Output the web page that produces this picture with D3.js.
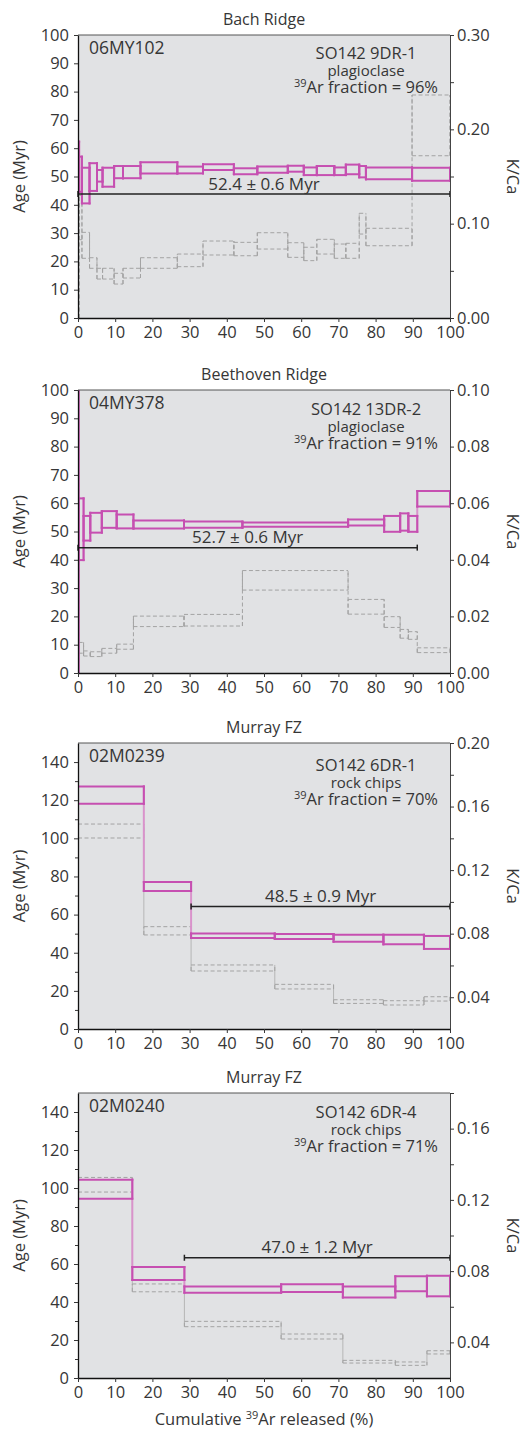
<!DOCTYPE html>
<html>
<head>
<meta charset="utf-8">
<script src="https://cdn.jsdelivr.net/npm/d3@7"></script>
<style>
body{margin:0;background:#fff;}
svg{display:block;font-family:"Open Sans",sans-serif;}
</style>
</head>
<body>
<svg id="chart" width="528" height="1432"></svg>
<script>
// step boundaries (cumulative 39Ar released, %), ages [lo, hi] (Myr), K/Ca [lo, hi]
var bachCum = [0, 0.3, 1.06, 3.1, 5.1, 6.6, 9.7, 12.1, 16.8, 26.7, 33.6, 41.9, 48.2, 56.4, 60.7, 64.2, 68.9, 72.0, 75.6, 77.4, 89.8, 100];
var bachAge = [[44.5,62.3],[44.6,57.0],[40.5,53.1],[44.9,54.7],[48.2,52.3],[46.4,53.1],[49.4,53.7],[49.4,53.7],[51.1,55.0],[51.1,53.5],
  [52.3,54.3],[50.8,52.9],[51.3,53.5],[51.7,53.8],[50.5,53.2],[50.5,53.7],[50.5,53.2],[50.8,54.2],[49.7,53.7],[49.0,53.2],[48.5,53.1]];
var bachKCa = [[0.0,0.14],[0.083,0.13],[0.0633,0.0908],[0.0527,0.0639],[0.0413,0.0527],[0.0413,0.0527],[0.036,0.0474],[0.0424,0.0527],
  [0.0527,0.0639],[0.0544,0.0678],[0.0668,0.0816],[0.066,0.0802],[0.0731,0.0904],[0.0643,0.0798],[0.0608,0.075],[0.0678,0.0834],
  [0.0633,0.0784],[0.0633,0.0792],[0.089,0.111],[0.0766,0.0951],[0.172,0.2364]];

var beetCum = [0, 0.18, 1.5, 3.3, 6.4, 10.4, 14.9, 28.5, 44.2, 72.6, 82.3, 86.6, 88.8, 91.2, 100];
var beetAge = [[-20,130],[39.9,61.7],[46.8,55.5],[49.6,56.6],[51.3,57.2],[51.1,56.0],[51.1,53.9],[51.3,53.5],[51.7,53.2],[52.1,54.2],
  [49.9,55.5],[50.3,56.4],[49.9,55.5],[58.8,64.3]];
var beetKCa = [[-0.01,0.071],[0.0070,0.0108],[0.0060,0.0078],[0.0058,0.0075],[0.0070,0.0087],[0.0084,0.0102],[0.0164,0.0201],
  [0.0166,0.0207],[0.0293,0.0362],[0.0208,0.026],[0.0161,0.0199],[0.0123,0.0154],[0.0119,0.0146],[0.0072,0.0089]];

var murACum = [0, 17.7, 30.4, 52.9, 68.7, 82.1, 93.0, 100];
var murAAge = [[118.1,127.2],[72.4,77.1],[47.7,50.1],[47.2,49.8],[45.8,49.4],[44.4,49.4],[42.0,48.8]];
var murAKCa = [[0.1402,0.149],[0.0792,0.0844],[0.0565,0.0603],[0.0452,0.0481],[0.0361,0.0384],[0.0351,0.0378],[0.0376,0.0403]];

var murBCum = [0, 14.6, 28.6, 54.6, 71.2, 85.3, 93.8, 100];
var murBAge = [[94.4,104.4],[51.6,58.4],[44.9,48.2],[45.3,49.3],[42.4,48.2],[45.6,53.5],[43.0,53.8]];
var murBKCa = [[0.1244,0.1326],[0.0684,0.0728],[0.0488,0.0518],[0.0419,0.0447],[0.0284,0.0299],[0.0271,0.029],[0.0335,0.0353]];

// labels
var titles = ['Bach Ridge', 'Beethoven Ridge', 'Murray FZ', 'Murray FZ'];
var sampleIds = ['06MY102', '04MY378', '02M0239', '02M0240'];
var dredges = ['SO142 9DR-1', 'SO142 13DR-2', 'SO142 6DR-1', 'SO142 6DR-4'];
var materials = ['plagioclase', 'plagioclase', 'rock chips', 'rock chips'];
var fractions = [96, 91, 70, 71];

// plateau ages
var plateauLabel = ['52.4 ± 0.6 Myr', '52.7 ± 0.6 Myr', '48.5 ± 0.9 Myr', '47.0 ± 1.2 Myr'];
var plateauFrom = [0, 0, 30.4, 28.6];
var plateauTo = [100, 91.2, 100, 100];
var plateauLevel = [43.8, 44.3, 64.3, 63.3];

// axes
var xTicks = [0, 10, 20, 30, 40, 50, 60, 70, 80, 90, 100];
var ageMax = [100, 100, 150, 150];
var ageTicks = [[0,10,20,30,40,50,60,70,80,90,100], [0,10,20,30,40,50,60,70,80,90,100],
  [0,20,40,60,80,100,120,140], [0,20,40,60,80,100,120,140]];
var ageMinor = [[], [], [10,30,50,70,90,110,130], [10,30,50,70,90,110,130]];
var kcaDomain = [[0, 0.30], [0, 0.10], [0.02, 0.20], [0.02, 0.18]];
var kcaTicks = [[0, 0.10, 0.20, 0.30], [0, 0.02, 0.04, 0.06, 0.08, 0.10],
  [0.04, 0.08, 0.12, 0.16, 0.20], [0.04, 0.08, 0.12, 0.16]];
var kcaMinor = [[0.05, 0.15, 0.25], [], [0.06, 0.10, 0.14, 0.18], [0.06, 0.10, 0.14, 0.18]];

var panels = [
  {cum: bachCum, age: bachAge, kca: bachKCa},
  {cum: beetCum, age: beetAge, kca: beetKCa},
  {cum: murACum, age: murAAge, kca: murAKCa},
  {cum: murBCum, age: murBAge, kca: murBKCa}
];

var svg = d3.select('#chart');
var left = 78, right = 450;
var tops = [35, 390, 743, 1093];
var heights = [283, 283, 286, 285];
var infoDy = [24, 25, 28, 25];
var pink = '#c64fb1', pinkLight = '#d993cb', grey = '#a3a3a3', ink = '#363636';

// box edges of every step (kind 'edge') and the joins between neighbouring steps (kind 'join')
function stepSegments(cum, vals){
  var segs = [];
  for(var b=0; b<cum.length; b++){
    var a = vals[Math.max(b-1, 0)], c = vals[Math.min(b, vals.length-1)];
    segs.push({x1: cum[b], x2: cum[b], y1: Math.min(a[0], c[0]), y2: Math.max(a[1], c[1]), kind: 'join'});
  }
  vals.forEach(function(v, i){
    segs.push({x1: cum[i], x2: cum[i+1], y1: v[1], y2: v[1], kind: 'edge'});
    segs.push({x1: cum[i], x2: cum[i+1], y1: v[0], y2: v[0], kind: 'edge'});
    segs.push({x1: cum[i], x2: cum[i], y1: v[0], y2: v[1], kind: 'edge'});
    segs.push({x1: cum[i+1], x2: cum[i+1], y1: v[0], y2: v[1], kind: 'edge'});
  });
  return segs;
}

panels.forEach(function(p, i){
  var top = tops[i], h = heights[i], bottom = top + h;
  var x = d3.scaleLinear().domain([0, 100]).range([left, right]);
  var yL = d3.scaleLinear().domain([0, ageMax[i]]).range([bottom, top]);
  var yR = d3.scaleLinear().domain(kcaDomain[i]).range([bottom, top]);
  var g = svg.append('g');

  g.append('clipPath').attr('id', 'clip' + i)
    .append('rect').attr('x', left).attr('y', top).attr('width', right-left).attr('height', h);

  g.append('rect').attr('x', left).attr('y', top).attr('width', right-left).attr('height', h)
    .attr('fill', '#e1e2e4');

  var plot = g.append('g').attr('clip-path', 'url(#clip' + i + ')');

  // K/Ca spectrum
  var kSegs = stepSegments(p.kca.length ? p.cum : [], p.kca);
  if(i < 2) kSegs = kSegs.filter(function(d){ return d.kind == 'edge'; })
    .concat(kSegs.filter(function(d){ return d.kind == 'join'; }));
  plot.selectAll('line.kca').data(kSegs).enter().append('line')
    .attr('class', 'kca')
    .attr('x1', function(d){ return x(d.x1); })
    .attr('x2', function(d){ return x(d.x2); })
    .attr('y1', function(d){ return yR(d.y1); })
    .attr('y2', function(d){ return yR(d.y2); })
    .attr('stroke', function(d){ return (d.kind == 'join' && i>1) ? '#b6b6b6' : grey; })
    .attr('stroke-width', 1)
    .attr('stroke-dasharray', function(d){ return (d.kind == 'join' && i>1) ? null : '4,2.5'; });

  // age spectrum
  plot.selectAll('line.age').data(stepSegments(p.cum, p.age)).enter().append('line')
    .attr('class', 'age')
    .attr('x1', function(d){ return x(d.x1); })
    .attr('x2', function(d){ return x(d.x2); })
    .attr('y1', function(d){ return yL(d.y1); })
    .attr('y2', function(d){ return yL(d.y2); })
    .attr('stroke', function(d){ return d.kind == 'join' ? pinkLight : pink; })
    .attr('stroke-width', 2)
    .attr('stroke-linecap', 'square');

  // plateau bracket
  var py = yL(plateauLevel[i]);
  g.append('line').attr('x1', x(plateauFrom[i])).attr('x2', x(plateauTo[i]))
    .attr('y1', py).attr('y2', py).attr('stroke', '#222').attr('stroke-width', 1.5);
  [plateauFrom[i], plateauTo[i]].forEach(function(v){
    g.append('line').attr('x1', x(v)).attr('x2', x(v)).attr('y1', py-3).attr('y2', py+3)
      .attr('stroke', '#222').attr('stroke-width', 1.5);
  });
  g.append('text').attr('x', x((plateauFrom[i] + plateauTo[i]) / 2)).attr('y', py - 4.5)
    .attr('text-anchor', 'middle').attr('font-size', 17).attr('fill', ink)
    .text(plateauLabel[i]);

  // frame top
  g.append('line').attr('x1', left).attr('x2', right).attr('y1', top).attr('y2', top)
    .attr('stroke', '#555').attr('stroke-width', 1);

  // axes
  var fmtAge = d3.format('d'), fmtK = d3.format('.2f');
  var ax = g.append('g').attr('transform', 'translate(' + left + ',0)')
    .call(d3.axisLeft(yL).tickValues(ageTicks[i]).tickFormat(fmtAge).tickSize(4).tickSizeOuter(0).tickPadding(5));
  g.append('g').attr('transform', 'translate(' + left + ',0)')
    .call(d3.axisLeft(yL).tickValues(ageMinor[i]).tickFormat('').tickSize(3).tickSizeOuter(0))
    .select('.domain').remove();
  var ar = g.append('g').attr('transform', 'translate(' + right + ',0)')
    .call(d3.axisRight(yR).tickValues(kcaTicks[i]).tickFormat(fmtK).tickSize(4).tickSizeOuter(0).tickPadding(3));
  g.append('g').attr('transform', 'translate(' + right + ',0)')
    .call(d3.axisRight(yR).tickValues(kcaMinor[i]).tickFormat('').tickSize(4).tickSizeOuter(0))
    .select('.domain').remove();
  var ab = g.append('g').attr('transform', 'translate(0,' + bottom + ')')
    .call(d3.axisBottom(x).tickValues(xTicks).tickFormat(fmtAge).tickSize(4).tickSizeOuter(0).tickPadding(4));

  g.selectAll('.tick text').attr('font-size', 16.5).attr('fill', ink).attr('font-family', '"Open Sans",sans-serif');
  g.selectAll('.tick line').attr('stroke', ink);
  ax.select('.domain').attr('stroke', '#111').attr('stroke-width', 1.3);
  ab.select('.domain').attr('stroke', '#111').attr('stroke-width', 1.3);
  ar.select('.domain').attr('stroke', '#444').attr('stroke-width', 1);

  // axis titles
  var mid = (top + bottom) / 2;
  g.append('text').attr('transform', 'translate(25,' + mid + ') rotate(-90)')
    .attr('text-anchor', 'middle').attr('font-size', 16.5).attr('fill', ink).text('Age (Myr)');
  g.append('text').attr('transform', 'translate(507,' + mid + ') rotate(90)')
    .attr('text-anchor', 'middle').attr('font-size', 16.5).attr('fill', ink).text('K/Ca');

  // panel title and sample labels
  g.append('text').attr('x', (left + right) / 2).attr('y', top - 10)
    .attr('text-anchor', 'middle').attr('font-size', 16).attr('fill', ink).text(titles[i]);
  g.append('text').attr('x', left + 11).attr('y', top + 19)
    .attr('font-size', 17.5).attr('fill', ink).text(sampleIds[i]);

  var cx = 366, ty = top + infoDy[i];
  g.append('text').attr('x', cx).attr('y', ty).attr('text-anchor', 'middle')
    .attr('font-size', 16.5).attr('fill', ink).text(dredges[i]);
  g.append('text').attr('x', cx).attr('y', ty + 16.5).attr('text-anchor', 'middle')
    .attr('font-size', 15).attr('fill', ink).text(materials[i]);
  var fr = g.append('text').attr('x', cx).attr('y', ty + 33.5).attr('text-anchor', 'middle')
    .attr('font-size', 16.5).attr('fill', ink);
  fr.append('tspan').attr('font-size', 11).attr('dy', -6).text('39');
  fr.append('tspan').attr('dy', 6).text('Ar fraction = ' + fractions[i] + '%');
});

// shared x-axis title
var xt = svg.append('text').attr('x', 264).attr('y', 1425).attr('text-anchor', 'middle')
  .attr('font-size', 16.5).attr('fill', ink);
xt.append('tspan').text('Cumulative ');
xt.append('tspan').attr('font-size', 11).attr('dy', -6).text('39');
xt.append('tspan').attr('dy', 6).text('Ar released (%)');
</script>
</body>
</html>
